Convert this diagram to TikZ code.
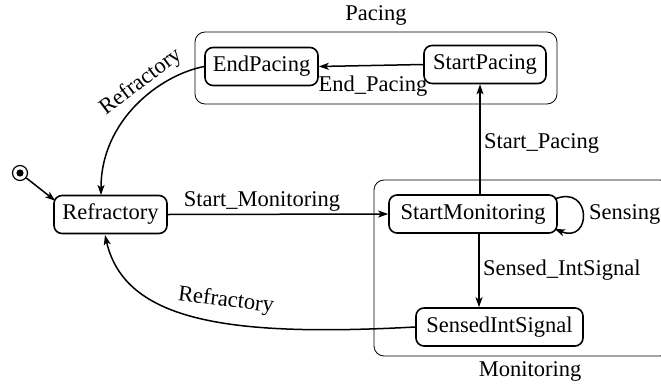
\documentclass[tikz,border=0pt]{standalone}
\usepackage{fontspec}
\setmainfont{Liberation Serif}
\usetikzlibrary{arrows.meta,calc}
\begin{document}
\begin{tikzpicture}[x=1pt,y=-1pt,
  every node/.style={font=\rmfamily\fontsize{22.5}{26}\selectfont, inner sep=0pt},
  state/.style={draw, line width=1.6pt, rounded corners=8pt, minimum height=38pt, inner xsep=4pt},
  container/.style={draw, line width=0.8pt, rounded corners=10pt},
  edge/.style={line width=1.5pt, -{Stealth[length=10pt,width=7pt,inset=2.5pt]}},
  lbl/.style={inner sep=1pt}]
\useasboundingbox (0,0) rectangle (661,383);
% containers
\draw[container] (195,32) rectangle (557,104);
\node (pacinglbl) at (376,15) {Pacing};
\draw[container] (374,180) rectangle (670,356);
\node (monlbl) at (530,371) {Monitoring};
% states
\node[state, minimum width=113pt] (ep) at (261.5,66.5) {EndPacing};
\node[state, minimum width=122pt] (sp) at (485,64.5) {StartPacing};
\node[state, minimum width=113pt] (rf) at (110.5,214.5) {Refractory};
\node[state, minimum width=168pt] (sm) at (473,214) {StartMonitoring};
\node[state, minimum width=167pt] (si) at (499.5,327) {SensedIntSignal};
% initial state
\node[circle, draw, line width=1.2pt, minimum size=15pt] (init) at (20,173) {};
\fill (init.center) circle (3.6pt);
\coordinate (xa) at (480,0);
\coordinate (xb) at (479,0);
% edges
\draw[edge] (init) -- ($(rf.north west)+(2,6)$);
\draw[edge] (sp.west) -- (ep.east);
\node (lEnd) at (373,86) {End\_Pacing};
\draw[edge] (ep.west) .. controls (160,75) and (101,120) .. (101,195);
\node[rotate=37] (lRef1) at (141,82) {Refractory};
\draw[edge] (rf.east) -- (sm.west);
\node (lSM) at (262,201) {Start\_Monitoring};
\draw[edge] (sm.north -| xa) -- (sp.south -| xa);
\node[anchor=west] (lSP) at (484,143) {Start\_Pacing};
\draw[edge] (sm.south -| xb) -- (si.north -| xb);
\node[anchor=west] (lSI) at (483,270) {Sensed\_IntSignal};
\draw[edge] (si.west) .. controls (230,337) and (125,322) .. (105,235);
\node[rotate=-7] (lRef2) at (226,301) {Refractory};
\draw[edge] ($(sm.east)+(-3,-15)$) .. controls (592,184) and (592,244) .. ($(sm.east)+(-3,15)$);
\node[anchor=west] (lSens) at (589,214) {Sensing};
\end{tikzpicture}
\end{document}
